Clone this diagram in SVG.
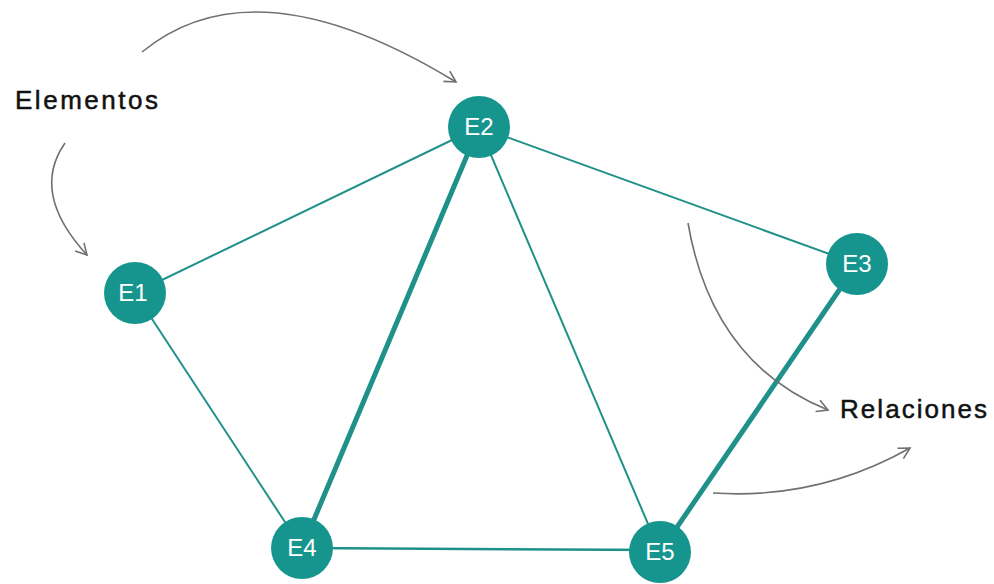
<svg xmlns="http://www.w3.org/2000/svg" width="994" height="584" viewBox="0 0 994 584">
  <style>
    .edge { stroke: #1f918a; stroke-linecap: round; fill: none; }
    .thin { stroke-width: 2; }
    .mid { stroke-width: 2.5; }
    .thick { stroke-width: 5; }
    .node circle { fill: #15958e; }
    .node text { fill: #ffffff; font-family: "Liberation Sans", Arial, sans-serif; font-size: 24px; text-anchor: middle; }
    .label { fill: #111111; stroke: #111111; stroke-width: 0.5; font-family: "Liberation Sans", Arial, sans-serif; font-size: 26px; }
    .arrow { stroke: #707070; stroke-width: 1.6; fill: none; marker-end: url(#head); }
  </style>
  <defs>
    <marker id="head" markerUnits="userSpaceOnUse" markerWidth="16" markerHeight="16" refX="12" refY="7" orient="auto" viewBox="0 0 16 14">
      <path d="M1,1 L12,7 L1,13" fill="none" stroke="#707070" stroke-width="1.6"/>
    </marker>
  </defs>
  <rect width="994" height="584" fill="#ffffff"/>
  <g id="connectors">
    <line class="edge thin" x1="135" y1="293" x2="479" y2="127"/>
    <line class="edge thin" x1="135" y1="293" x2="302" y2="548"/>
    <line class="edge thick" x1="479" y1="127" x2="302" y2="548"/>
    <line class="edge thin" x1="479" y1="127" x2="660" y2="552"/>
    <line class="edge thin" x1="479" y1="127" x2="857" y2="264"/>
    <line class="edge thick" x1="857" y1="264" x2="660" y2="552"/>
    <line class="edge mid" x1="302" y1="548" x2="660" y2="550"/>
  </g>
  <g id="annotations">
    <path class="arrow" d="M142,52 Q255,-41 456,82"/>
    <path class="arrow" d="M65,143 Q30,193 87,255"/>
    <path class="arrow" d="M688,223 Q712,363 828,410"/>
    <path class="arrow" d="M713,493 Q818,500 910,448"/>
  </g>
  <g id="E1" class="node"><circle cx="135" cy="293" r="31"/><text x="133" y="301">E1</text></g>
  <g id="E2" class="node"><circle cx="479" cy="127" r="31"/><text x="479" y="135">E2</text></g>
  <g id="E3" class="node"><circle cx="857" cy="264" r="31"/><text x="857" y="272">E3</text></g>
  <g id="E4" class="node"><circle cx="302" cy="548" r="31"/><text x="302" y="556">E4</text></g>
  <g id="E5" class="node"><circle cx="660" cy="552" r="31"/><text x="660" y="560">E5</text></g>
  <g id="Elementos"><text class="label" x="15" y="109" textLength="143">Elementos</text></g>
  <g id="Relaciones"><text class="label" x="840" y="418" textLength="147">Relaciones</text></g>
</svg>
